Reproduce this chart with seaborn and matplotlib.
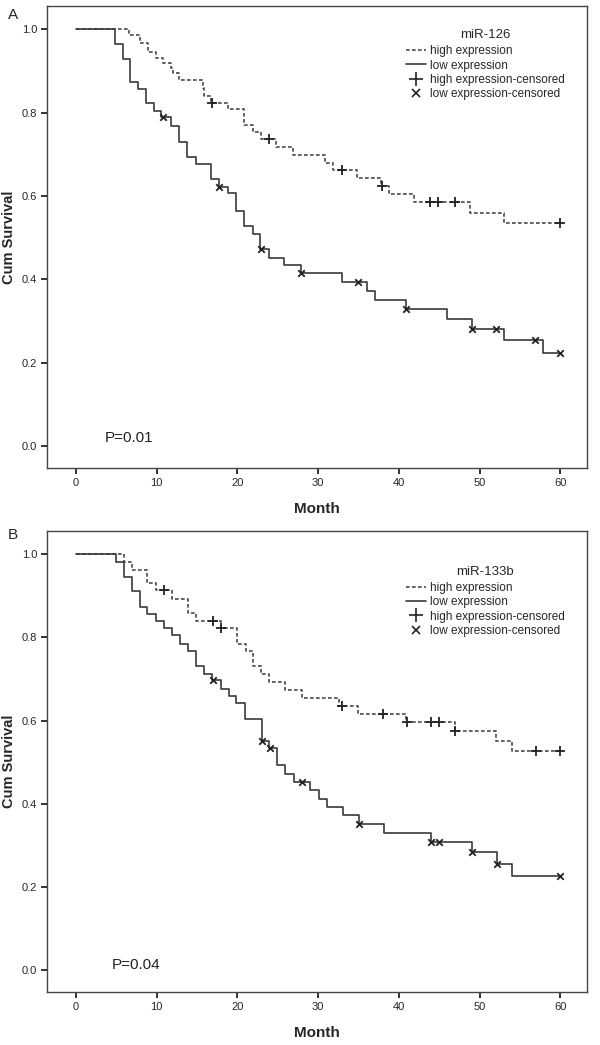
import numpy as np
import pandas as pd
import seaborn as sns
import matplotlib.pyplot as plt
from matplotlib.lines import Line2D

# panel A (miR-126)
a_high_t = [0, 6.6, 7.9, 8.9, 9.9, 10.8, 11.8, 12.0, 12.8, 15.7, 15.9, 16.7, 18.8, 20.8, 21.9,
            22.9, 24.8, 26.9, 30.9, 31.8, 34.8, 37.8, 38.8, 41.9, 48.8, 53.0, 60]
a_high_s = [1.0, 0.986, 0.968, 0.946, 0.930, 0.918, 0.906, 0.894, 0.878, 0.858, 0.840, 0.824, 0.808,
            0.770, 0.754, 0.736, 0.718, 0.698, 0.680, 0.662, 0.642, 0.624, 0.605, 0.585, 0.560, 0.534, 0.534]
a_high_cens = [16.9, 23.9, 32.9, 37.9, 43.9, 44.9, 46.9, 60]
a_low_t = [0, 4.8, 5.8, 6.7, 7.7, 8.7, 9.7, 10.5, 11.8, 12.8, 13.8, 14.9, 16.7, 17.7, 18.8, 19.8,
           20.8, 21.9, 22.8, 23.9, 25.8, 27.9, 32.9, 36.0, 37.0, 40.9, 46.0, 49.0, 53.0, 57.9, 60]
a_low_s = [1.0, 0.965, 0.928, 0.874, 0.856, 0.822, 0.805, 0.790, 0.768, 0.730, 0.694, 0.677, 0.640,
           0.622, 0.606, 0.565, 0.528, 0.509, 0.472, 0.452, 0.433, 0.414, 0.393, 0.372, 0.349, 0.328,
           0.304, 0.281, 0.254, 0.222, 0.222]
a_low_cens = [10.8, 17.7, 22.9, 27.9, 34.9, 40.9, 49.0, 52.0, 56.9, 60]

# panel B (miR-133b)
b_high_t = [0, 6.0, 6.9, 8.8, 9.9, 11.9, 13.9, 14.9, 17.9, 19.9, 21.0, 21.9, 22.9, 23.9, 25.9,
            28.0, 32.6, 34.9, 40.9, 47.0, 52.0, 54.0, 60]
b_high_s = [1.0, 0.982, 0.963, 0.930, 0.914, 0.892, 0.858, 0.840, 0.822, 0.785, 0.767, 0.731, 0.712,
            0.693, 0.673, 0.654, 0.635, 0.615, 0.597, 0.574, 0.550, 0.526, 0.526]
b_high_cens = [10.9, 17.0, 17.9, 33.0, 38.0, 41.0, 44.0, 45.0, 47.0, 57.0, 60]
b_low_t = [0, 4.9, 6.0, 6.9, 7.9, 8.8, 9.9, 10.9, 11.9, 12.9, 13.9, 14.8, 15.8, 16.9, 17.9, 18.9,
           19.8, 20.9, 23.0, 23.9, 24.9, 25.9, 27.0, 29.0, 30.1, 31.1, 33.1, 35.0, 38.1, 44.0, 49.1,
           52.1, 54.0, 60]
b_low_s = [1.0, 0.982, 0.946, 0.911, 0.874, 0.857, 0.840, 0.822, 0.805, 0.785, 0.767, 0.731, 0.713,
           0.697, 0.676, 0.659, 0.643, 0.605, 0.551, 0.533, 0.492, 0.472, 0.453, 0.432, 0.412, 0.392,
           0.372, 0.351, 0.330, 0.308, 0.283, 0.255, 0.225, 0.225]
b_low_cens = [17.0, 23.0, 24.0, 28.0, 35.0, 44.0, 45.0, 49.1, 52.1, 60]

month_ticks = [0, 10, 20, 30, 40, 50, 60]
surv_ticks = [0.0, 0.2, 0.4, 0.6, 0.8, 1.0]

sns.set_style("ticks")
plt.rcParams['font.family'] = ['Liberation Sans', 'DejaVu Sans']

DASH = (0, (2.2, 1.4))
LINE_C = '#3a3a3a'
DASH_C = '#4a4a4a'


def censor_y(t, s, cens):
    idx = np.searchsorted(np.array(t), np.array(cens), side='right') - 1
    return np.array(s)[idx]


def draw_panel(ax, high_t, high_s, high_c, low_t, low_s, low_c, title, ptext, px, py, leg_y):
    df = pd.concat([
        pd.DataFrame({'Month': high_t, 'Survival': high_s, 'group': 'high'}),
        pd.DataFrame({'Month': low_t, 'Survival': low_s, 'group': 'low'}),
    ])
    sns.lineplot(data=df, x='Month', y='Survival', hue='group', style='group',
                 palette={'high': DASH_C, 'low': LINE_C},
                 dashes={'high': DASH[1], 'low': ''},
                 drawstyle='steps-post', estimator=None, sort=False,
                 linewidth=1.2, legend=False, ax=ax)
    sns.scatterplot(x=high_c, y=censor_y(high_t, high_s, high_c), marker='+',
                    color='#222222', s=55, linewidth=1.3, ax=ax, zorder=5)
    sns.scatterplot(x=low_c, y=censor_y(low_t, low_s, low_c), marker='x',
                    color='#222222', s=22, linewidth=1.3, ax=ax, zorder=5)

    ax.set_xlim(-3.6, 63.3)
    ax.set_ylim(-0.053, 1.056)
    ax.set_xticks(month_ticks)
    ax.set_xticklabels([str(m) for m in month_ticks])
    ax.set_yticks(surv_ticks)
    ax.set_yticklabels(['%.1f' % v for v in surv_ticks])
    ax.tick_params(axis='both', labelsize=8, length=4, width=1.4, color='#333333', pad=3)
    for sp in ax.spines.values():
        sp.set_visible(True)
        sp.set_linewidth(1.0)
        sp.set_color('#444444')
    ax.set_xlabel('Month', fontsize=11, fontweight='bold', labelpad=10)
    ax.set_ylabel('Cum Survival', fontsize=10.5, fontweight='bold', labelpad=4)
    ax.text(px, py, ptext, fontsize=11, ha='left', va='center', color='#222222')

    handles = [
        Line2D([], [], color=DASH_C, linestyle=DASH, linewidth=1.2),
        Line2D([], [], color=LINE_C, linewidth=1.2),
        Line2D([], [], color='#222222', marker='+', markersize=10, markeredgewidth=1.2, linestyle='None'),
        Line2D([], [], color='#222222', marker='x', markersize=6, markeredgewidth=1.2, linestyle='None'),
    ]
    labels = ['high expression', 'low expression', 'high expression-censored', 'low expression-censored']
    leg = ax.legend(handles, labels, title=title, loc='upper left', bbox_to_anchor=(0.665, leg_y),
                    frameon=False, fontsize=8.5, title_fontsize=9.5, handlelength=1.7,
                    handletextpad=0.3, labelspacing=0.2, borderpad=0, borderaxespad=0)
    leg._legend_box.align = 'center'
    leg._legend_box.sep = 3


fig = plt.figure(figsize=(6, 10.45), dpi=100)
ax_a = fig.add_axes([0.0783, 0.5522, 0.9, 0.4421])
ax_b = fig.add_axes([0.0783, 0.0507, 0.9, 0.4411])

draw_panel(ax_a, a_high_t, a_high_s, a_high_cens, a_low_t, a_low_s, a_low_cens,
           'miR-126', 'P=0.01', 3.5, 0.02, 0.95)
draw_panel(ax_b, b_high_t, b_high_s, b_high_cens, b_low_t, b_low_s, b_low_cens,
           'miR-133b', 'P=0.04', 4.4, 0.012, 0.925)

fig.text(8 / 600, 1 - 15 / 1045, 'A', fontsize=11, ha='left', va='center')
fig.text(8 / 600, 1 - 535 / 1045, 'B', fontsize=11, ha='left', va='center')

fig.savefig('out.png', dpi=100)
